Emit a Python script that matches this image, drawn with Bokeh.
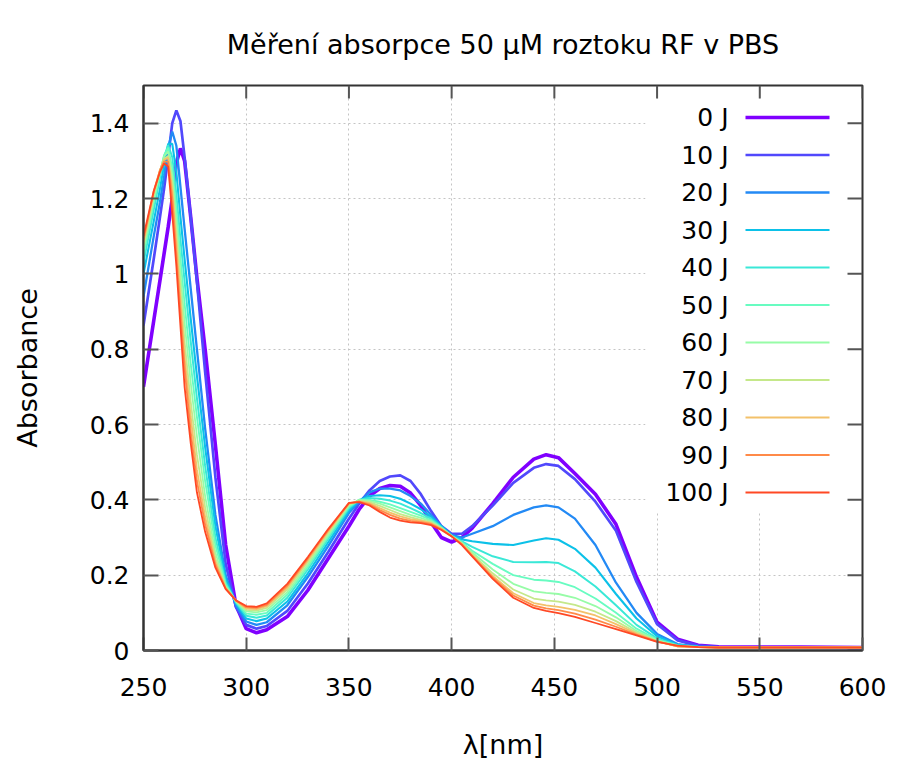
from bokeh.plotting import figure
from bokeh.models import Range1d, FixedTicker, ColumnDataSource
from bokeh.core.properties import value
from bokeh.embed import file_html
from bokeh.resources import INLINE

FONT = "DejaVu Sans"

title = "Měření absorpce 50 µM roztoku RF v PBS"
x_title = "λ[nm]"
y_title = "Absorbance"

x_ticks = [250, 300, 350, 400, 450, 500, 550, 600]
y_ticks = [0, 0.2, 0.4, 0.6, 0.8, 1.0, 1.2, 1.4]
y_tick_labels = ["0", "0.2", "0.4", "0.6", "0.8", "1", "1.2", "1.4"]

series_labels = ["0 J", "10 J", "20 J", "30 J", "40 J", "50 J",
                 "60 J", "70 J", "80 J", "90 J", "100 J"]

wavelength = [250, 255, 258, 260, 262, 264, 266, 268, 270, 273,
              276, 280, 285, 290, 295, 300, 305, 310, 320, 330,
              340, 350, 355, 360, 365, 370, 375, 380, 385, 390,
              395, 400, 405, 410, 420, 430, 440, 446, 452, 460,
              470, 480, 490, 500, 510, 520, 530, 545, 570, 600]

a_0J = [0.700, 0.876, 0.982, 1.053, 1.124, 1.200, 1.295, 1.333, 1.300, 1.150,
        0.990, 0.800, 0.545, 0.280, 0.120, 0.058, 0.047, 0.055, 0.090, 0.160,
        0.245, 0.330, 0.375, 0.410, 0.430, 0.438, 0.436, 0.418, 0.385, 0.340,
        0.300, 0.288, 0.300, 0.325, 0.390, 0.460, 0.508, 0.520, 0.512, 0.470,
        0.415, 0.335, 0.195, 0.075, 0.030, 0.014, 0.010, 0.009, 0.009, 0.008]
a_10J = [0.863, 1.040, 1.150, 1.225, 1.310, 1.400, 1.434, 1.405, 1.310, 1.150,
         0.980, 0.740, 0.460, 0.230, 0.115, 0.068, 0.058, 0.065, 0.105, 0.178,
         0.262, 0.350, 0.390, 0.425, 0.450, 0.462, 0.465, 0.450, 0.415, 0.370,
         0.330, 0.310, 0.310, 0.330, 0.385, 0.445, 0.485, 0.495, 0.490, 0.455,
         0.395, 0.318, 0.182, 0.070, 0.027, 0.013, 0.009, 0.008, 0.008, 0.008]
a_20J = [0.940, 1.100, 1.190, 1.260, 1.335, 1.378, 1.340, 1.230, 1.120, 0.960,
         0.800, 0.590, 0.360, 0.200, 0.120, 0.077, 0.068, 0.075, 0.120, 0.195,
         0.278, 0.365, 0.395, 0.420, 0.430, 0.430, 0.425, 0.410, 0.390, 0.360,
         0.330, 0.307, 0.300, 0.310, 0.330, 0.360, 0.380, 0.385, 0.380, 0.350,
         0.280, 0.180, 0.100, 0.044, 0.017, 0.010, 0.009, 0.008, 0.008, 0.008]
a_30J = [1.000, 1.140, 1.225, 1.290, 1.345, 1.345, 1.270, 1.150, 1.040, 0.880,
         0.730, 0.540, 0.330, 0.190, 0.125, 0.085, 0.078, 0.085, 0.130, 0.205,
         0.288, 0.372, 0.398, 0.410, 0.412, 0.410, 0.403, 0.390, 0.375, 0.355,
         0.330, 0.305, 0.295, 0.290, 0.283, 0.280, 0.292, 0.298, 0.294, 0.270,
         0.220, 0.150, 0.085, 0.038, 0.015, 0.010, 0.009, 0.008, 0.008, 0.008]
a_40J = [1.030, 1.170, 1.255, 1.310, 1.342, 1.310, 1.210, 1.090, 0.980, 0.820,
         0.670, 0.490, 0.300, 0.180, 0.128, 0.092, 0.087, 0.093, 0.140, 0.215,
         0.297, 0.378, 0.400, 0.405, 0.403, 0.398, 0.390, 0.378, 0.365, 0.350,
         0.328, 0.304, 0.290, 0.275, 0.250, 0.235, 0.234, 0.235, 0.232, 0.210,
         0.170, 0.120, 0.068, 0.032, 0.014, 0.010, 0.009, 0.008, 0.008, 0.008]
a_50J = [1.050, 1.190, 1.265, 1.315, 1.335, 1.280, 1.170, 1.040, 0.920, 0.760,
         0.620, 0.450, 0.280, 0.175, 0.130, 0.098, 0.095, 0.100, 0.148, 0.222,
         0.303, 0.382, 0.400, 0.400, 0.395, 0.388, 0.378, 0.368, 0.358, 0.346,
         0.326, 0.304, 0.287, 0.265, 0.230, 0.200, 0.188, 0.186, 0.182, 0.168,
         0.138, 0.100, 0.058, 0.029, 0.013, 0.009, 0.009, 0.008, 0.008, 0.008]
a_60J = [1.065, 1.200, 1.270, 1.312, 1.325, 1.260, 1.140, 1.000, 0.870, 0.710,
         0.570, 0.410, 0.260, 0.170, 0.131, 0.104, 0.101, 0.107, 0.155, 0.228,
         0.308, 0.385, 0.400, 0.397, 0.390, 0.380, 0.370, 0.360, 0.352, 0.343,
         0.325, 0.304, 0.285, 0.260, 0.215, 0.177, 0.157, 0.153, 0.150, 0.140,
         0.118, 0.088, 0.052, 0.027, 0.012, 0.009, 0.009, 0.008, 0.008, 0.008]
a_70J = [1.075, 1.210, 1.275, 1.305, 1.313, 1.240, 1.110, 0.960, 0.820, 0.660,
         0.520, 0.380, 0.245, 0.168, 0.132, 0.108, 0.106, 0.113, 0.162, 0.235,
         0.313, 0.388, 0.398, 0.394, 0.384, 0.373, 0.362, 0.354, 0.347, 0.340,
         0.324, 0.304, 0.284, 0.256, 0.205, 0.162, 0.138, 0.133, 0.130, 0.121,
         0.103, 0.078, 0.048, 0.025, 0.011, 0.009, 0.008, 0.008, 0.008, 0.008]
a_80J = [1.085, 1.215, 1.275, 1.302, 1.308, 1.220, 1.080, 0.930, 0.780, 0.620,
         0.480, 0.355, 0.235, 0.166, 0.132, 0.112, 0.110, 0.118, 0.168, 0.240,
         0.317, 0.390, 0.396, 0.391, 0.378, 0.366, 0.356, 0.349, 0.344, 0.338,
         0.323, 0.303, 0.283, 0.253, 0.198, 0.152, 0.126, 0.120, 0.116, 0.108,
         0.093, 0.070, 0.045, 0.024, 0.011, 0.009, 0.008, 0.008, 0.008, 0.008]
a_90J = [1.090, 1.220, 1.275, 1.298, 1.298, 1.200, 1.050, 0.900, 0.750, 0.580,
         0.450, 0.335, 0.228, 0.165, 0.133, 0.115, 0.113, 0.121, 0.172, 0.244,
         0.320, 0.391, 0.395, 0.388, 0.373, 0.360, 0.350, 0.344, 0.341, 0.336,
         0.322, 0.303, 0.282, 0.251, 0.194, 0.146, 0.119, 0.112, 0.107, 0.098,
         0.082, 0.063, 0.042, 0.024, 0.011, 0.009, 0.008, 0.008, 0.008, 0.008]
a_100J = [1.100, 1.220, 1.270, 1.293, 1.285, 1.160, 1.020, 0.860, 0.700, 0.550,
          0.420, 0.315, 0.220, 0.163, 0.133, 0.118, 0.116, 0.125, 0.177, 0.248,
          0.323, 0.392, 0.394, 0.385, 0.368, 0.353, 0.345, 0.340, 0.338, 0.333,
          0.320, 0.303, 0.280, 0.250, 0.190, 0.140, 0.113, 0.105, 0.099, 0.089,
          0.073, 0.057, 0.040, 0.023, 0.013, 0.009, 0.008, 0.008, 0.008, 0.008]

series_values = [a_0J, a_10J, a_20J, a_30J, a_40J, a_50J,
                 a_60J, a_70J, a_80J, a_90J, a_100J]

# styles
colors = ["#8000ff", "#5148fc", "#238af5", "#0cc1e8", "#3ae8d7", "#68fcc1",
          "#97fca7", "#c5e88a", "#f3c16a", "#ff8a48", "#ff4824"]
widths = [3.6, 2.7, 2.3, 2.1, 2.0, 1.9, 1.8, 1.8, 1.8, 1.8, 1.8]

X0, X1 = 250, 600
Y0, Y1 = 0.0, 1.5
W, H = 897, 762
FL, FR, FT, FB = 143, 862, 85, 650      # frame edges in page pixels

p = figure(width=W, height=H, x_range=Range1d(X0, X1), y_range=Range1d(Y0, Y1),
           output_backend="svg", toolbar_location=None,
           min_border_left=FL, min_border_right=W - FR,
           min_border_top=FT, min_border_bottom=H - FB)
p.background_fill_color = "white"
p.border_fill_color = "white"
p.outline_line_color = "#333333"
p.outline_line_width = 2

p.title.text = title
p.title.align = "center"
p.title.vertical_align = "top"
p.title.text_font = FONT
p.title.text_font_size = "27px"
p.title.text_font_style = "normal"
p.title.text_color = "black"
p.title.standoff = 48

xax = p.below[0]
yax = p.left[0]
xax.ticker = FixedTicker(ticks=x_ticks)
yax.ticker = FixedTicker(ticks=y_ticks)
yax.major_label_overrides = {t: l for t, l in zip(y_ticks, y_tick_labels)}
xax.axis_label = x_title
yax.axis_label = y_title
for ax in (xax, yax):
    ax.major_label_text_font = FONT
    ax.major_label_text_font_size = "25px"
    ax.major_label_text_color = "black"
    ax.axis_label_text_font = FONT
    ax.axis_label_text_font_size = "27px"
    ax.axis_label_text_font_style = "normal"
    ax.axis_label_text_color = "black"
    ax.axis_line_color = "#333333"
    ax.axis_line_width = 2
    ax.major_tick_out = 0
    ax.minor_tick_line_color = None
    ax.major_tick_line_color = "#555555"
    ax.major_tick_line_width = 2
XT, YT = 13, 15   # tick lengths (px)
xax.major_tick_in = XT
yax.major_tick_in = YT
xax.major_label_standoff = 27
yax.major_label_standoff = 14
xax.axis_label_standoff = 30
yax.axis_label_standoff = 44

p.xgrid.ticker = FixedTicker(ticks=x_ticks)
p.ygrid.ticker = FixedTicker(ticks=y_ticks)
for g in (p.xgrid, p.ygrid):
    g.grid_line_color = "#c4c4c4"
    g.grid_line_dash = "2 3"
    g.grid_line_width = 1

def xd(px):
    return X0 + (px - FL) * (X1 - X0) / (FR - FL)
def yd(py):
    return Y0 + (FB - py) * (Y1 - Y0) / (FB - FT)

dx_px = (X1 - X0) / (FR - FL)
dy_px = (Y1 - Y0) / (FB - FT)

# legend background
p.quad(left=[xd(645)], right=[xd(847)], top=[yd(98)], bottom=[yd(512)],
       fill_color="white", line_color=None)

# mirrored ticks on top and right borders
p.segment(x0=x_ticks, y0=[Y1] * len(x_ticks), x1=x_ticks,
          y1=[Y1 - XT * dy_px] * len(x_ticks), line_color="#555555", line_width=2)
p.segment(x0=[X1] * len(y_ticks), y0=y_ticks, x1=[X1 - YT * dx_px] * len(y_ticks),
          y1=y_ticks, line_color="#555555", line_width=2)

data = {"wl": wavelength}
for lab, vals in zip(series_labels, series_values):
    data[lab] = vals
src = ColumnDataSource(data)
for lab, c, w in zip(series_labels, colors, widths):
    p.line("wl", lab, source=src, line_color=c, line_width=w)

n = len(series_labels)
row_y = [yd(117 + 37.5 * i) for i in range(n)]
p.text(x=[xd(728)] * n, y=row_y, text=series_labels, text_align="right",
       text_baseline="middle", text_font=value(FONT), text_font_size=value("25px"),
       text_color="black")
p.segment(x0=[xd(745)] * n, y0=row_y, x1=[xd(829)] * n, y1=row_y,
          line_color=colors, line_width=widths)

open("out.html", "w").write(file_html(p, INLINE))
